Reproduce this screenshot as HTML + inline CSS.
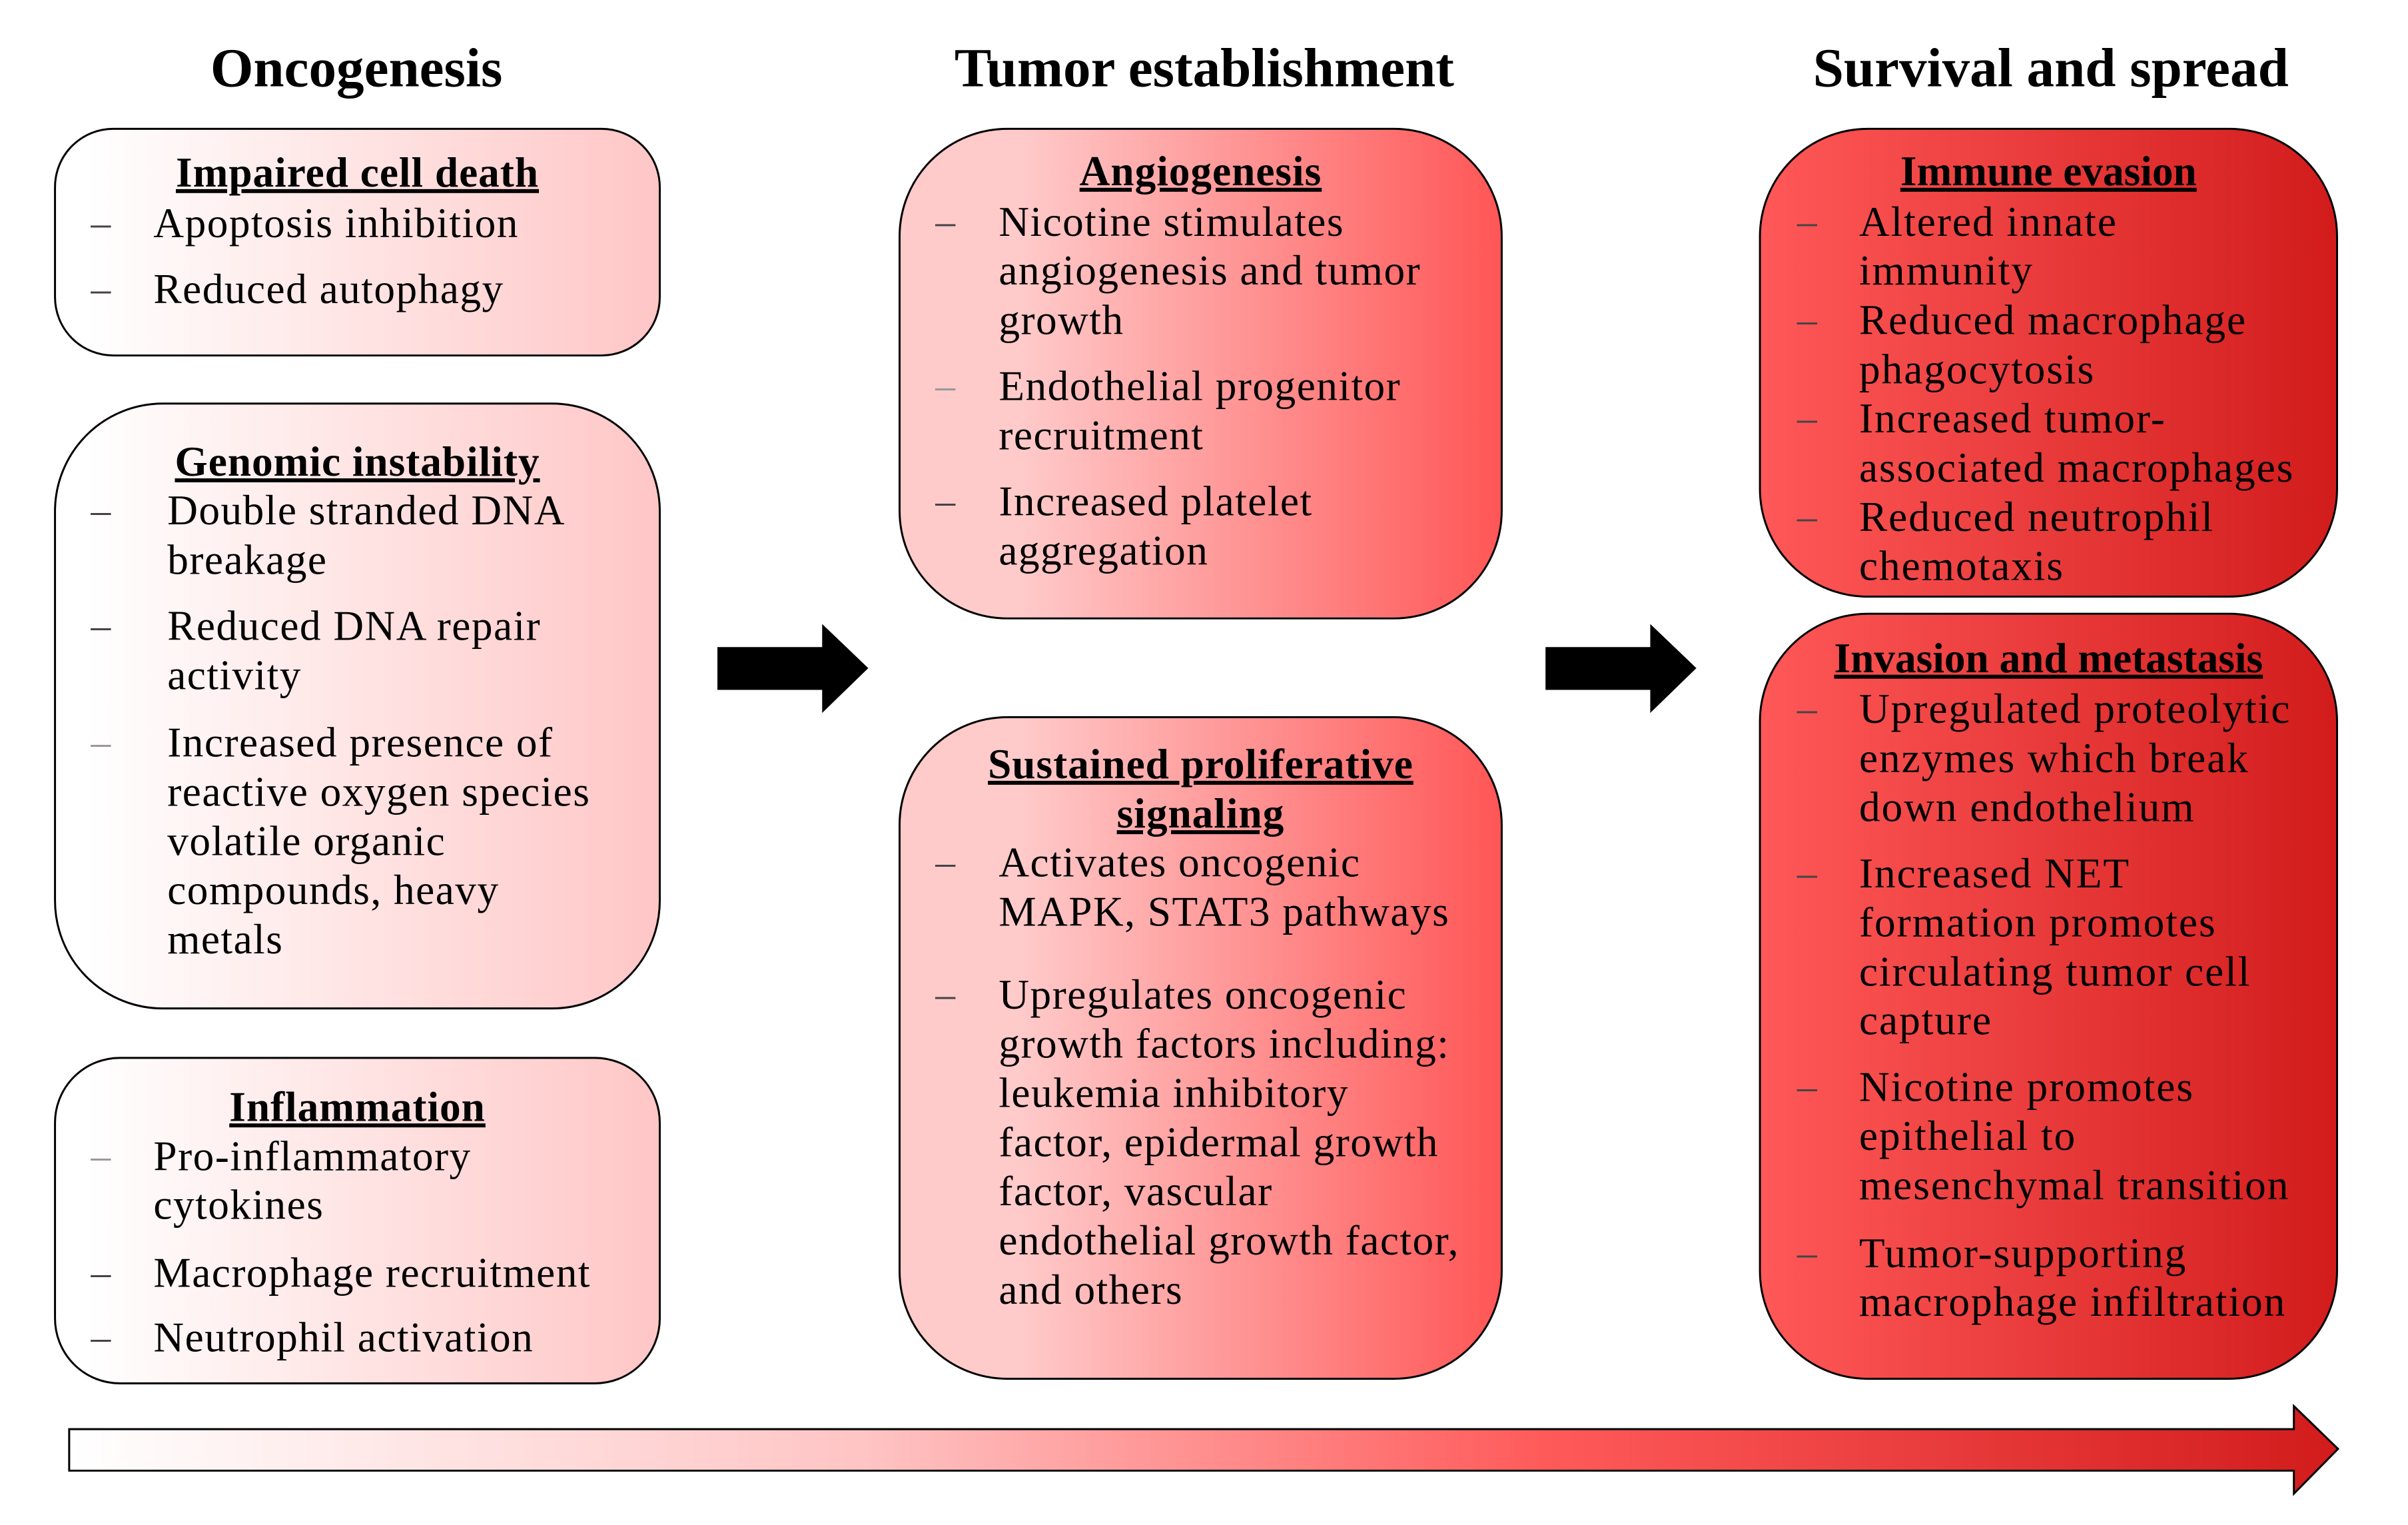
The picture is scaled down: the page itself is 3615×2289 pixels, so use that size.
<!DOCTYPE html>
<html><head><meta charset="utf-8"><style>
body{margin:0;width:3615px;height:2289px;background:#fff;position:relative;overflow:hidden;font-family:"Liberation Serif",serif;color:#000}
#w{position:absolute;left:0;top:0;width:3615px;height:2289px;transform:scale(0.989);transform-origin:0 0}
.t{position:absolute;font-weight:bold;font-size:84px;line-height:84px;text-align:center;width:1000px}
.b{position:absolute;border:3px solid #000;box-sizing:border-box}
.c1{background:linear-gradient(to right,#fff 5%,#ffc6c6 100%)}
.c2{background:linear-gradient(to right,#ffcaca 20%,#ff5656 100%)}
.c3{background:linear-gradient(to right,#ff5858 0%,#d21c1c 100%)}
.l{position:absolute;font-size:64px;line-height:75px;white-space:nowrap;letter-spacing:1.5px}
.h{position:absolute;font-size:64px;line-height:75px;font-weight:bold;text-decoration:underline;text-align:center;white-space:nowrap;letter-spacing:1px}
.d{position:absolute;font-size:60px;line-height:75px;color:#444}
.s3 .l{letter-spacing:2px}
.s3 .h{letter-spacing:0}
</style></head><body><div id="w">
<div class="t" style="left:41px;top:62px">Oncogenesis</div>
<div class="t" style="left:1328px;top:62px">Tumor establishment</div>
<div class="t" style="left:2613px;top:62px">Survival and spread</div>

<div class="b c1" style="left:82px;top:194px;width:921px;height:347px;border-radius:90px"></div>
<div class="b c1" style="left:82px;top:611px;width:921px;height:921px;border-radius:165px"></div>
<div class="b c1" style="left:82px;top:1604px;width:921px;height:497px;border-radius:100px"></div>
<div class="b c2" style="left:1364px;top:194px;width:917px;height:746px;border-radius:165px"></div>
<div class="b c2" style="left:1364px;top:1087px;width:917px;height:1007px;border-radius:165px"></div>
<div class="b c3" style="left:2670px;top:194px;width:879px;height:713px;border-radius:165px"></div>
<div class="b c3" style="left:2670px;top:930px;width:879px;height:1164px;border-radius:165px"></div>

<svg style="position:absolute;left:0;top:0" width="3615" height="2289">
<defs><linearGradient id="g" x1="0" x2="1"><stop offset="0" stop-color="#fff"/><stop offset="0.35" stop-color="#ffc4c4"/><stop offset="0.65" stop-color="#ff5a5a"/><stop offset="1" stop-color="#d21c1c"/></linearGradient></defs>
<polygon points="1089,982 1248,982 1248,947 1318,1014 1248,1082 1248,1047 1089,1047" fill="#000"/>
<polygon points="2346,982 2505,982 2505,947 2575,1014 2505,1082 2505,1047 2346,1047" fill="#000"/>
<polygon points="105,2169 3482,2169 3482,2134 3549,2199 3482,2267 3482,2232 105,2232" fill="url(#g)" stroke="#000" stroke-width="3"/>
</svg>

<div class="h" style="left:82px;width:921px;top:224px">Impaired cell death</div>
<div class="d" style="left:138px;top:301px">–</div><div class="l" style="left:233px;top:301px">Apoptosis inhibition</div>
<div class="d" style="left:138px;top:401px">–</div><div class="l" style="left:233px;top:401px">Reduced autophagy</div>

<div class="h" style="left:82px;width:921px;top:663px">Genomic instability</div>
<div class="d" style="left:138px;top:737px">–</div><div class="l" style="left:254px;top:737px">Double stranded DNA</div>
<div class="l" style="left:254px;top:812px">breakage</div>
<div class="d" style="left:138px;top:912px">–</div><div class="l" style="left:254px;top:912px">Reduced DNA repair</div>
<div class="l" style="left:254px;top:987px">activity</div>
<div class="d" style="left:138px;top:1089px;color:#999">–</div><div class="l" style="left:254px;top:1089px">Increased presence of</div>
<div class="l" style="left:254px;top:1164px">reactive oxygen species</div>
<div class="l" style="left:254px;top:1239px">volatile organic</div>
<div class="l" style="left:254px;top:1313px">compounds, heavy</div>
<div class="l" style="left:254px;top:1388px">metals</div>

<div class="h" style="left:82px;width:921px;top:1642px">Inflammation</div>
<div class="d" style="left:138px;top:1717px;color:#999">–</div><div class="l" style="left:233px;top:1717px">Pro-inflammatory</div>
<div class="l" style="left:233px;top:1791px">cytokines</div>
<div class="d" style="left:138px;top:1894px">–</div><div class="l" style="left:233px;top:1894px">Macrophage recruitment</div>
<div class="d" style="left:138px;top:1992px">–</div><div class="l" style="left:233px;top:1992px">Neutrophil activation</div>

<div class="h" style="left:1364px;width:917px;top:222px">Angiogenesis</div>
<div class="d" style="left:1420px;top:299px">–</div><div class="l" style="left:1516px;top:299px">Nicotine stimulates</div>
<div class="l" style="left:1516px;top:373px">angiogenesis and tumor</div>
<div class="l" style="left:1516px;top:448px">growth</div>
<div class="d" style="left:1420px;top:548px;color:#999">–</div><div class="l" style="left:1516px;top:548px">Endothelial progenitor</div>
<div class="l" style="left:1516px;top:623px">recruitment</div>
<div class="d" style="left:1420px;top:723px">–</div><div class="l" style="left:1516px;top:723px">Increased platelet</div>
<div class="l" style="left:1516px;top:798px">aggregation</div>

<div class="h" style="left:1364px;width:917px;top:1122px">Sustained proliferative</div>
<div class="h" style="left:1364px;width:917px;top:1197px">signaling</div>
<div class="d" style="left:1420px;top:1271px">–</div><div class="l" style="left:1516px;top:1271px">Activates oncogenic</div>
<div class="l" style="left:1516px;top:1346px">MAPK, STAT3 pathways</div>
<div class="d" style="left:1420px;top:1472px">–</div><div class="l" style="left:1516px;top:1472px">Upregulates oncogenic</div>
<div class="l" style="left:1516px;top:1546px">growth factors including:</div>
<div class="l" style="left:1516px;top:1621px">leukemia inhibitory</div>
<div class="l" style="left:1516px;top:1696px">factor, epidermal growth</div>
<div class="l" style="left:1516px;top:1770px">factor, vascular</div>
<div class="l" style="left:1516px;top:1845px">endothelial growth factor,</div>
<div class="l" style="left:1516px;top:1920px">and others</div>

<div class="s3">
<div class="h" style="left:2670px;width:879px;top:222px">Immune evasion</div>
<div class="d" style="left:2728px;top:299px">–</div><div class="l" style="left:2822px;top:299px">Altered innate</div>
<div class="l" style="left:2822px;top:373px">immunity</div>
<div class="d" style="left:2728px;top:448px">–</div><div class="l" style="left:2822px;top:448px">Reduced macrophage</div>
<div class="l" style="left:2822px;top:523px">phagocytosis</div>
<div class="d" style="left:2728px;top:597px">–</div><div class="l" style="left:2822px;top:597px">Increased tumor-</div>
<div class="l" style="left:2822px;top:672px">associated macrophages</div>
<div class="d" style="left:2728px;top:747px">–</div><div class="l" style="left:2822px;top:747px">Reduced neutrophil</div>
<div class="l" style="left:2822px;top:821px">chemotaxis</div>

<div class="h" style="left:2670px;width:879px;top:961px">Invasion and metastasis</div>
<div class="d" style="left:2728px;top:1038px">–</div><div class="l" style="left:2822px;top:1038px">Upregulated proteolytic</div>
<div class="l" style="left:2822px;top:1113px">enzymes which break</div>
<div class="l" style="left:2822px;top:1187px">down endothelium</div>
<div class="d" style="left:2728px;top:1288px">–</div><div class="l" style="left:2822px;top:1288px">Increased NET</div>
<div class="l" style="left:2822px;top:1362px">formation promotes</div>
<div class="l" style="left:2822px;top:1437px">circulating tumor cell</div>
<div class="l" style="left:2822px;top:1511px">capture</div>
<div class="d" style="left:2728px;top:1612px">–</div><div class="l" style="left:2822px;top:1612px">Nicotine promotes</div>
<div class="l" style="left:2822px;top:1686px">epithelial to</div>
<div class="l" style="left:2822px;top:1761px">mesenchymal transition</div>
<div class="d" style="left:2728px;top:1864px">–</div><div class="l" style="left:2822px;top:1864px">Tumor-supporting</div>
<div class="l" style="left:2822px;top:1938px">macrophage infiltration</div>
</div>
</div></body></html>
